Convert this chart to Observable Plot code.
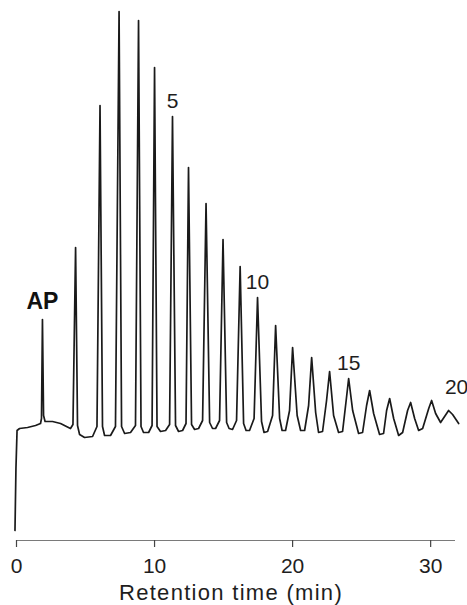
<!DOCTYPE html>
<html>
<head>
<meta charset="utf-8">
<script src="https://cdn.jsdelivr.net/npm/d3@7"></script>
<script src="https://cdn.jsdelivr.net/npm/@observablehq/plot@0.6"></script>
<style>
  body { margin: 0; background: #fff; }
</style>
</head>
<body>
<div id="chart"></div>
<script>
// Detector trace: retention time (min) and response (arbitrary units), vertex by vertex
const traceTime = [
  -0.11, -0.04, 0.04, 0.22, 0.80, 1.38, 1.74, 1.81, 1.88, 1.96,
  2.07, 2.61, 3.19, 3.62, 3.91, 4.09, 4.28, 4.42, 4.57, 4.93,
  5.51, 5.83, 6.05, 6.23, 6.38, 6.81, 7.17, 7.43, 7.61, 7.83,
  8.26, 8.62, 8.84, 9.02, 9.20, 9.57, 9.82, 10.00, 10.18, 10.43,
  10.80, 11.09, 11.30, 11.52, 11.74, 12.03, 12.28, 12.46, 12.68, 12.90,
  13.19, 13.48, 13.73, 13.99, 14.20, 14.42, 14.71, 14.96, 15.22, 15.40,
  15.65, 15.94, 16.20, 16.45, 16.63, 16.88, 17.21, 17.46, 17.75, 17.93,
  18.19, 18.55, 18.77, 19.06, 19.24, 19.49, 19.78, 20.00, 20.33, 20.58,
  20.87, 21.16, 21.38, 21.67, 21.88, 22.17, 22.46, 22.68, 22.97, 23.33,
  23.62, 23.88, 24.06, 24.35, 24.78, 25.07, 25.36, 25.58, 25.87, 26.30,
  26.59, 26.81, 27.03, 27.32, 27.68, 27.97, 28.33, 28.55, 28.84, 29.13,
  29.42, 29.86, 30.07, 30.36, 30.72, 31.01, 31.30, 31.59, 32.03
];
const traceSignal = [
  10, 72, 110, 112, 113, 115, 117, 122, 221, 125,
  119, 119, 117, 114, 112, 116, 293, 115, 106, 103,
  104, 114, 435, 114, 105, 105, 114, 529, 114, 107,
  108, 115, 520, 114, 108, 108, 115, 473, 114, 109,
  110, 116, 424, 115, 109, 110, 117, 373, 116, 111,
  112, 120, 337, 118, 112, 112, 120, 301, 118, 112,
  111, 120, 274, 117, 110, 110, 122, 243, 119, 108,
  109, 125, 215, 122, 110, 110, 130, 193, 125, 110,
  110, 135, 183, 128, 108, 109, 140, 169, 125, 108,
  109, 140, 162, 130, 107, 108, 135, 150, 127, 106,
  107, 130, 142, 122, 105, 108, 130, 138, 122, 110,
  112, 132, 140, 127, 118, 124, 130, 126, 117
];

// Peak annotations: text and the retention time of the apex they mark
const labelText = ["AP", "5", "10", "15", "20"];
const labelTime = [1.88, 11.30, 17.46, 24.06, 31.30];

const xTicks = [0, 10, 20, 30];
const xTitle = "Retention time (min)";

const trace = traceTime.map((t, i) => ({t, s: traceSignal[i]}));
const labels = labelText.map((text, i) => {
  const apex = trace.find(d => d.t === labelTime[i]);
  return {text, t: apex.t, s: apex.s};
});

const font = "'Liberation Sans', Arial, Helvetica, sans-serif";

const chart = Plot.plot({
  width: 467,
  height: 605,
  marginLeft: 16,
  marginRight: 12,
  marginTop: 0,
  marginBottom: 65,
  x: {domain: [0, 31.8]},
  y: {domain: [0, 540], axis: null},
  style: {fontFamily: font, color: "#1e1e1e", background: "#fff", overflow: "visible"},
  marks: [
    Plot.ruleY([0], {stroke: "#7a7a7a", strokeWidth: 1.2}),
    Plot.axisX({
      ticks: xTicks,
      tickSize: 7,
      tickPadding: 11,
      fontSize: 21,
      label: null,
      stroke: "#444",
      strokeWidth: 1.2
    }),
    Plot.line(trace, {
      x: "t", y: "s",
      stroke: "#1a1a1a", strokeWidth: 1.7,
      strokeLinejoin: "round", strokeLinecap: "round"
    }),
    Plot.text(labels.filter(d => d.text === "AP"), {
      x: "t", y: "s", text: "text",
      lineAnchor: "bottom", dy: -11,
      fontSize: 23, fontWeight: "bold", fill: "#111"
    }),
    Plot.text(labels.filter(d => d.text !== "AP" && d.text !== "20"), {
      x: "t", y: "s", text: "text",
      lineAnchor: "bottom", dy: -9,
      fontSize: 21, fill: "#1e1e1e"
    }),
    Plot.text(labels.filter(d => d.text === "20"), {
      x: "t", y: "s", text: "text",
      lineAnchor: "bottom", dx: 8, dy: -17,
      fontSize: 21, fill: "#1e1e1e"
    }),
    Plot.text([xTitle], {
      text: d => d,
      frameAnchor: "bottom",
      lineAnchor: "bottom",
      dx: -5, dy: 59,
      fontSize: 22, fill: "#1e1e1e"
    })
  ]
});

// The axis title is set slightly wider, with open letter spacing
d3.select(chart).selectAll("text")
  .filter(function() { return this.textContent === xTitle; })
  .attr("letter-spacing", "1.3px");

document.getElementById("chart").append(chart);
</script>
</body>
</html>
